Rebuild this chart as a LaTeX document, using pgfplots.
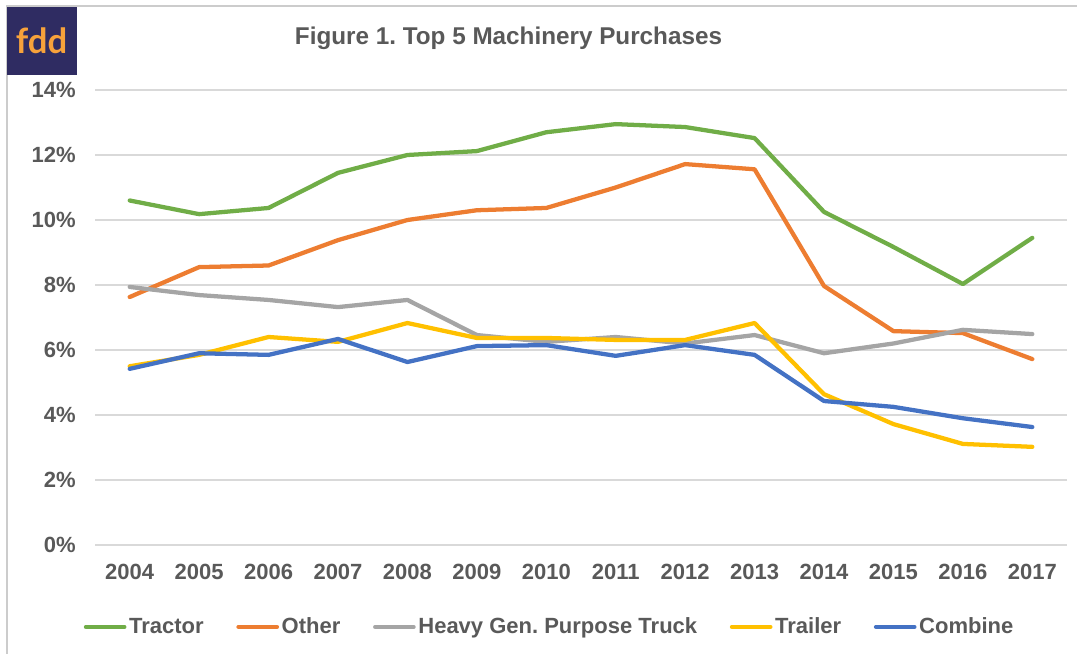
\documentclass[border=0pt]{standalone}
\usepackage{pgfplots}
\pgfplotsset{compat=1.18}
\usepackage{fontspec}
\setmainfont{Liberation Sans}
\newfontfamily\logofont{Lato}
\frenchspacing
\definecolor{ctr}{HTML}{70AD47}
\definecolor{cot}{HTML}{ED7D31}
\definecolor{chv}{HTML}{A5A5A5}
\definecolor{ctl}{HTML}{FFC000}
\definecolor{ccb}{HTML}{4472C4}
\definecolor{txt}{HTML}{595959}
\definecolor{grd}{HTML}{D9D9D9}
\definecolor{navy}{HTML}{2F2C62}
\definecolor{logoorange}{HTML}{F7A23B}
\pgfplotstableread{
x tractor other heavy trailer combine
0  10.60 7.63 7.94 5.50 5.42
1  10.18 8.55 7.69 5.85 5.90
2  10.37 8.60 7.54 6.40 5.85
3  11.45 9.38 7.32 6.25 6.34
4  12.00 10.00 7.54 6.83 5.63
5  12.12 10.30 6.46 6.37 6.12
6  12.70 10.37 6.25 6.37 6.15
7  12.95 11.00 6.40 6.31 5.82
8  12.86 11.72 6.20 6.31 6.15
9  12.52 11.56 6.46 6.83 5.85
10 10.25 7.97 5.90 4.64 4.43
11 9.17 6.58 6.20 3.72 4.25
12 8.03 6.52 6.62 3.11 3.90
13 9.45 5.72 6.49 3.02 3.63
}\datatable
\begin{document}
\begin{tikzpicture}
\begin{scope}[x=0.75pt,y=0.75pt]
\useasboundingbox (0,0) rectangle (1077,653);
% border
\draw[color=grd!85!gray, line width=1.1pt] (7,-10) -- (7,647) -- (1090,647);
% logo
\fill[navy] (7,646) rectangle (77,578);
\node[font=\logofont\bfseries\fontsize{26}{26}\selectfont, text=logoorange] at (41.5,612) {fdd};
% title
\node[font=\bfseries\fontsize{18.2}{20}\selectfont, text=txt] at (508.5,615) {Figure 1. Top 5 Machinery Purchases};
\end{scope}
\begin{axis}[
  at={(71.25pt,81pt)}, anchor=south west,
  scale only axis, width=729pt, height=341.25pt,
  xmin=-0.5, xmax=13.5, ymin=0, ymax=14,
  xtick={0,...,13},
  xticklabels={2004,2005,2006,2007,2008,2009,2010,2011,2012,2013,2014,2015,2016,2017},
  ytick={0,2,...,14},
  yticklabel={\pgfmathprintnumber{\tick}\%},
  /pgf/number format/assume math mode=true,
  axis line style={draw=none},
  major tick length=0pt,
  ymajorgrids,
  grid style={grd, line width=1.1pt},
  tick label style={font=\bfseries\fontsize{16.5}{18}\selectfont, text=txt},
  yticklabel style={xshift=-11pt},
  xticklabel style={yshift=-10.5pt},
  every axis plot/.append style={line width=3.2pt, line join=round, line cap=round, mark=none},
  legend columns=5,
  legend style={at={(0.468,-0.18)}, anchor=center, draw=none, fill=none,
    font=\bfseries\fontsize{16.5}{18}\selectfont, text=txt,
    /tikz/every even column/.append style={column sep=22.5pt},
    inner sep=0pt},
  legend image code/.code={\draw[#1, line width=3pt, line cap=round] (0pt,0pt) -- (29pt,0pt);},
]
\addplot[ctr] table[x=x,y=tractor] {\datatable};
\addlegendentry{Tractor}
\addplot[cot] table[x=x,y=other] {\datatable};
\addlegendentry{Other}
\addplot[chv] table[x=x,y=heavy] {\datatable};
\addlegendentry{Heavy Gen. Purpose Truck}
\addplot[ctl] table[x=x,y=trailer] {\datatable};
\addlegendentry{Trailer}
\addplot[ccb] table[x=x,y=combine] {\datatable};
\addlegendentry{Combine}
\end{axis}
\end{tikzpicture}
\end{document}
